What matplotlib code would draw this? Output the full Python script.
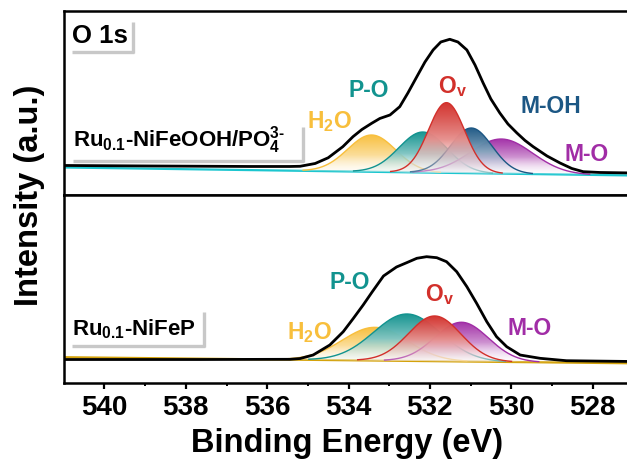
import numpy as np
import matplotlib
matplotlib.use('Agg')
import matplotlib.pyplot as plt
from matplotlib.colors import to_rgb
from matplotlib.patches import PathPatch

plt.rcParams['font.family'] = ['Liberation Sans', 'DejaVu Sans']
plt.rcParams['font.weight'] = 'bold'
plt.rcParams['mathtext.fontset'] = 'custom'
plt.rcParams['mathtext.bf'] = 'Liberation Sans:bold'
plt.rcParams['mathtext.rm'] = 'Liberation Sans:bold'
plt.rcParams['mathtext.it'] = 'Liberation Sans:bold'
plt.rcParams['mathtext.default'] = 'bf'

# ---- top panel: Ru0.1-NiFeOOH/PO4 (envelope)
be_top = [541.00, 538.88, 536.42, 535.44, 535.19, 534.82, 534.50, 534.14, 533.89,
          533.67, 533.43, 533.23, 532.98, 532.74, 532.54, 532.32, 532.12, 531.92,
          531.73, 531.51, 531.31, 531.09, 530.89, 530.69, 530.50, 530.28, 530.08,
          529.86, 529.66, 529.46, 529.12, 528.80, 528.51, 528.23, 527.82, 527.00]
env_top = [30.0, 29.5, 29.0, 29.0, 29.2, 32.0, 37.7, 48.8, 58.8,
           66.0, 72.2, 77.0, 80.5, 88.8, 102.5, 118.8, 133.5, 145.5,
           153.5, 156.2, 153.5, 145.5, 130.5, 112.5, 96.5, 82.5, 71.5,
           62.5, 55.0, 48.8, 39.5, 32.5, 27.0, 23.8, 23.0, 22.5]
bg_be = [541.0, 527.0]
bg_top = [28.0, 20.0]
names_top = ['H2O', 'P-O', 'Ov', 'M-OH', 'M-O']
cen_top = [533.43, 532.17, 531.59, 530.98, 530.24]
amp_top = [36.8, 40.5, 70.2, 45.2, 34.6]
fwhm_top = [1.39, 1.39, 1.05, 1.2, 1.8]

# ---- bottom panel: Ru0.1-NiFeP
be_bot = [541.00, 537.65, 535.44, 535.19, 534.87, 534.46, 534.13, 533.88, 533.64,
          533.42, 533.14, 532.82, 532.57, 532.32, 532.08, 531.83, 531.59, 531.34,
          531.09, 530.85, 530.60, 530.36, 530.11, 529.78, 529.29, 528.64, 527.00]
env_bot = [23.2, 23.2, 23.4, 24.2, 27.7, 37.7, 51.0, 64.4, 77.7,
           90.7, 106.7, 115.7, 120.0, 124.4, 126.0, 125.0, 121.0, 111.0,
           96.0, 79.4, 61.0, 46.0, 36.0, 27.7, 24.4, 22.0, 21.2]
bg_bot = [25.5, 19.4]
names_bot = ['H2O', 'P-O', 'Ov', 'M-O']
cen_bot = [533.35, 532.56, 531.88, 531.22]
amp_bot = [33.2, 46.9, 45.2, 39.2]
fwhm_bot = [1.88, 1.93, 1.52, 1.55]

colors = {'H2O': '#F8BF3C', 'P-O': '#12938F', 'Ov': '#D2302B',
          'M-OH': '#1C5784', 'M-O': '#A12DA6'}
draw_order = ['H2O', 'P-O', 'M-O', 'M-OH', 'Ov']

fig = plt.figure(figsize=(6.27, 4.63), dpi=100)
ax1 = fig.add_axes([0.1018, 0.5778, 0.9081, 0.3985])
ax2 = fig.add_axes([0.1018, 0.1734, 0.9081, 0.4044])

E = np.linspace(541, 527, 1400)


def grad_fill(ax, x, base, top, color, z):
    poly = ax.fill_between(x, base, top, facecolor='none', lw=0)
    patch = PathPatch(poly.get_paths()[0], facecolor='none', edgecolor='none',
                      transform=ax.transData)
    ax.add_patch(patch)
    # colour at the top fading to white, see-through only near the baseline
    s = np.linspace(0.0, 1.0, 256)
    t = 0.97 * (1 - s) ** 1.1
    img = np.ones((256, 1, 4))
    rgb = np.array(to_rgb(color))
    img[:, 0, :3] = rgb[None, :] * (1 - t[:, None]) + t[:, None]
    img[:, 0, 3] = np.clip(0.15 + 1.7 * s, 0, 0.98)
    im = ax.imshow(img, extent=[x.min(), x.max(), base.min(), top.max()],
                   origin='lower', aspect='auto', zorder=z, interpolation='bilinear')
    im.set_clip_path(patch)


def panel(ax, names, cen, amp, fwhm, bg, be, env, bg_color):
    base = np.interp(E, bg_be[::-1], bg[::-1])
    ax.plot(bg_be, bg, color=bg_color, lw=1.6, zorder=2)
    for n, c, a, w in zip(names, cen, amp, fwhm):
        s = w / 2.3548
        g = a * np.exp(-(E - c) ** 2 / (2 * s * s))
        comp = base + g
        z = 3 + draw_order.index(n) * 0.1
        grad_fill(ax, E, base, comp, colors[n], z)
        keep = g > 0.6
        ax.plot(E[keep], comp[keep], color=colors[n], lw=1.0, zorder=z + 0.05)
    ax.plot(be, env, color='black', lw=2.0, zorder=4)


panel(ax1, names_top, cen_top, amp_top, fwhm_top, bg_top, be_top, env_top, '#1CC6CF')
panel(ax2, names_bot, cen_bot, amp_bot, fwhm_bot, bg_bot, be_bot, env_bot, '#D4A20A')

for ax, h in ((ax1, 184.5), (ax2, 187.2)):
    ax.set_xlim(541, 527)
    ax.set_ylim(0, h)
    ax.set_yticks([])
    for sp in ax.spines.values():
        sp.set_linewidth(1.8)

ax1.set_xticks([])
ax2.set_xticks(np.arange(540, 527, -2))
ax2.set_xticks(np.arange(539, 527, -2), minor=True)
ax2.tick_params(axis='x', which='major', direction='out', length=4, width=1.6,
                labelsize=20, pad=5)
ax2.tick_params(axis='x', which='minor', direction='out', length=2.5, width=1.4)

# peak labels
lab = {'H2O': 'H$_2$O', 'P-O': 'P-O', 'Ov': 'O$_v$', 'M-OH': 'M-OH', 'M-O': 'M-O'}
pos_top = {'H2O': (535.03, 67.2), 'P-O': (533.99, 98.8), 'Ov': (531.80, 102.2),
           'M-OH': (529.77, 82.8), 'M-O': (528.68, 34.8)}
pos_bot = {'H2O': (535.52, 43.4), 'P-O': (534.46, 93.4), 'Ov': (532.12, 82.0),
           'M-O': (530.08, 47.7)}
for ax, pos in ((ax1, pos_top), (ax2, pos_bot)):
    for n, (x, y) in pos.items():
        ax.text(x, y, lab[n], color=colors[n], fontsize=16.5, fontweight='bold',
                ha='left', va='baseline', zorder=6)


def shadow_label(ax, x, y, s, size, xr, ytop, ybot):
    ax.text(x, y, s, transform=ax.transAxes, fontsize=size, fontweight='bold',
            ha='left', va='baseline', zorder=7)
    ax.plot([xr, xr], [ytop, ybot], color='#C8C8C8', lw=2.4,
            transform=ax.transAxes, clip_on=False, zorder=6, solid_capstyle='butt')
    ax.plot([x, xr + 0.002], [ybot + 0.006, ybot + 0.006], color='#C8C8C8', lw=2.4,
            transform=ax.transAxes, clip_on=False, zorder=6, solid_capstyle='butt')


shadow_label(ax1, 0.0139, 0.8266, 'O 1s', 18.5, 0.121, 0.942, 0.773)
shadow_label(ax1, 0.0156, 0.2645, r'Ru$_{0.1}$-NiFeOOH/PO$_4^{3\text{-}}$', 16,
             0.4196, 0.373, 0.183)
shadow_label(ax2, 0.0139, 0.2548, 'Ru$_{0.1}$-NiFeP', 16, 0.2462, 0.379, 0.190)

fig.text(30 / 627, 0.579, 'Intensity (a.u.)', rotation=90, fontsize=23.5,
         fontweight='bold', ha='center', va='center')
fig.text(0.554, 0.0238, 'Binding Energy (eV)', fontsize=23.5, fontweight='bold',
         ha='center', va='baseline')

fig.savefig('out.png', dpi=100)
